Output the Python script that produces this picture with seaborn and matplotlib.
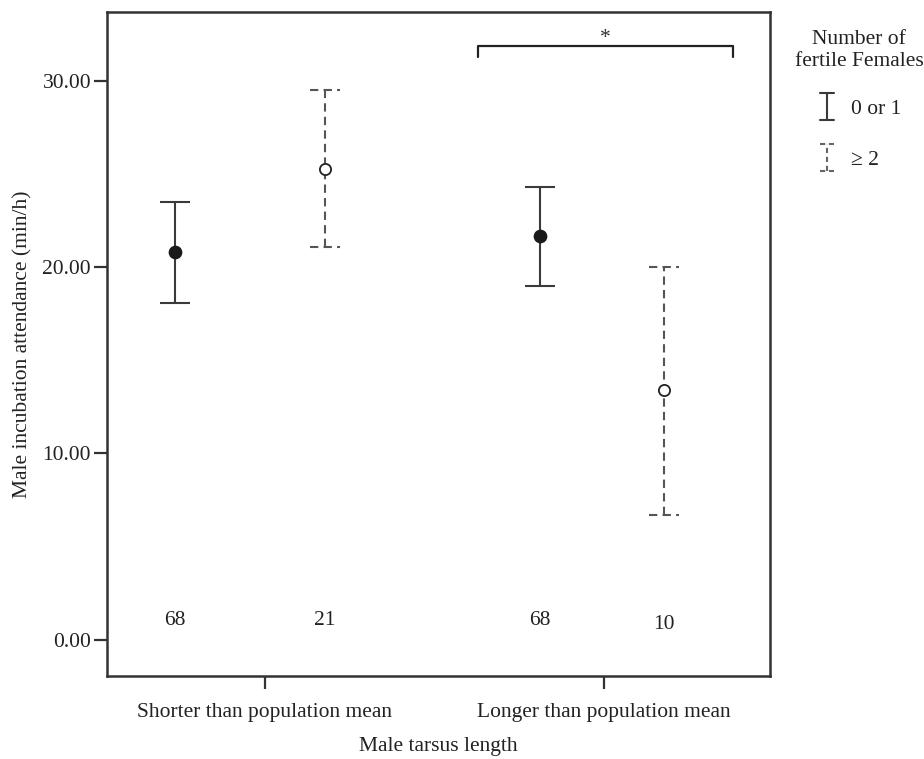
import numpy as np
import pandas as pd
import matplotlib
matplotlib.use("Agg")
import matplotlib.pyplot as plt
from matplotlib.lines import Line2D
from matplotlib.legend_handler import HandlerBase
import seaborn as sns

# ---- data ----
groups = ["Shorter than population mean", "Longer than population mean"]
females = ["0 or 1", "\u2265 2"]
x_pos = [-0.265, 0.177, 0.811, 1.177]
means = [20.8, 25.3, 21.7, 13.4]
upper = [23.5, 29.5, 24.3, 20.0]
lower = [18.1, 21.1, 19.0, 6.7]
n_labels = ["68", "21", "68", "10"]
n_y = [1.0, 1.0, 1.0, 0.8]
series = ["0 or 1", "\u2265 2", "0 or 1", "\u2265 2"]
yticks = [0, 10, 20, 30]

df = pd.DataFrame({"x": x_pos, "mean": means, "lo": lower, "hi": upper,
                   "series": series})

sns.set_theme(style="white")
plt.rcParams["font.family"] = ["Liberation Serif", "DejaVu Serif"]
FS = 15.5

fig = plt.figure(figsize=(9.24, 7.59), dpi=100)
ax = fig.add_axes([0.1158, 0.110, 0.8333 - 0.1158, 0.984 - 0.110])

styles = {"0 or 1": dict(ls="-", color="#3a3a3a", face="#1a1a1a"),
          "\u2265 2": dict(ls=(0, (4, 2.5)), color="#555555", face="white")}
capw = 0.045

for _, r in df.iterrows():
    st = styles[r["series"]]
    ax.vlines(r["x"], r["lo"], r["hi"], colors=st["color"], linestyles=st["ls"], lw=1.5, zorder=2)
    ax.hlines([r["lo"], r["hi"]], r["x"] - capw, r["x"] + capw, colors=st["color"],
              linestyles=st["ls"], lw=1.5, zorder=2)

sns.scatterplot(data=df[df.series == "0 or 1"], x="x", y="mean", ax=ax, s=75,
                color="#1a1a1a", edgecolor="#1a1a1a", linewidth=1.2, zorder=3, legend=False)
sns.scatterplot(data=df[df.series == "\u2265 2"], x="x", y="mean", ax=ax, s=65,
                color="white", edgecolor="#222222", linewidth=1.3, zorder=3, legend=False)

for x, t, yy in zip(x_pos, n_labels, n_y):
    ax.text(x, yy, t, ha="center", va="center", fontsize=FS, color="#222222")

# significance bracket
bx0, bx1, by, bh = 0.63, 1.38, 31.9, 0.6
ax.plot([bx0, bx0, bx1, bx1], [by - bh, by, by, by - bh], color="#222222", lw=1.6,
        solid_joinstyle="round")
ax.text((bx0 + bx1) / 2, by - 0.1, "*", ha="center", va="bottom", fontsize=FS, color="#333333")

ax.set_xlim(-0.466, 1.49)
ax.set_ylim(-1.93, 33.7)
ax.set_xticks([0, 1])
ax.set_xticklabels(groups, fontsize=FS, color="#222222")
ax.set_yticks(yticks)
ax.set_yticklabels([f"{v:.2f}" for v in yticks], fontsize=FS, color="#222222")
ax.tick_params(axis="both", direction="out", length=9.5, width=1.6, color="#333333",
               bottom=True, left=True)
ax.tick_params(axis="y", pad=2)
ax.tick_params(axis="x", pad=10)
for sp in ax.spines.values():
    sp.set_visible(True)
    sp.set_color("#333333")
    sp.set_linewidth(1.8)
ax.set_xlabel("Male tarsus length", fontsize=FS, color="#222222", labelpad=11)
ax.set_ylabel("Male incubation attendance (min/h)", fontsize=FS, color="#222222", labelpad=7)
ax.grid(False)


class HandlerEB(HandlerBase):
    def __init__(self, ls, color):
        super().__init__()
        self.ls = ls
        self.color = color

    def create_artists(self, legend, orig_handle, xdescent, ydescent, width, height, fontsize, trans):
        cx = width * 0.3
        h0, h1 = -height * 0.4, height * 1.4
        cw = width * 0.2
        arts = [Line2D([cx, cx], [h0, h1], ls=self.ls, color=self.color, lw=1.5),
                Line2D([cx - cw, cx + cw], [h0, h0], ls=self.ls, color=self.color, lw=1.5),
                Line2D([cx - cw, cx + cw], [h1, h1], ls=self.ls, color=self.color, lw=1.5)]
        for a in arts:
            a.set_transform(trans)
        return arts


h1 = Line2D([], [])
h2 = Line2D([], [])
leg = fig.legend([h1, h2], females, title="Number of\nfertile Females",
                 loc="upper center", bbox_to_anchor=(0.93, 0.983), frameon=False,
                 fontsize=FS, title_fontsize=FS, handlelength=1.6, handletextpad=0.0,
                 labelspacing=1.45, borderpad=0.3,
                 handler_map={h1: HandlerEB("-", "#3a3a3a"),
                              h2: HandlerEB((0, (2.5, 1.8)), "#666666")})
leg.get_title().set_multialignment("center")
leg.get_title().set_color("#222222")
leg._legend_box.sep = 20
for t in leg.get_texts():
    t.set_color("#222222")

fig.savefig("out.png", dpi=100)
